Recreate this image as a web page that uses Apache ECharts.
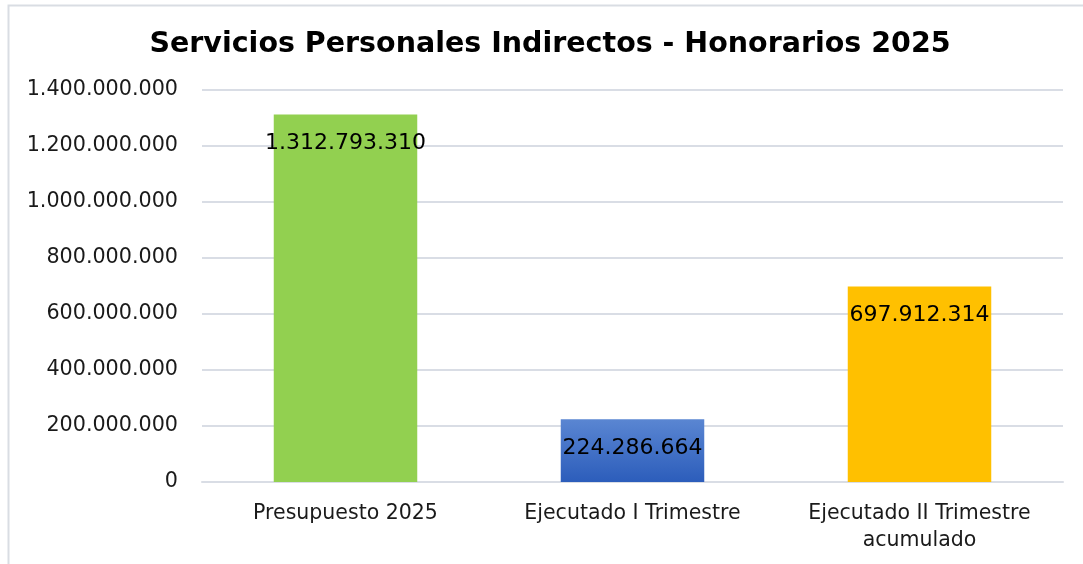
<!DOCTYPE html>
<html>
<head>
<meta charset="utf-8">
<script src="https://cdn.jsdelivr.net/npm/echarts@6/dist/echarts.min.js"></script>
<style>
html,body{margin:0;padding:0;background:#fff;}
#chart{width:1083px;height:564px;}
</style>
</head>
<body>
<div id="chart"></div>
<script>
const titleText = 'Servicios Personales Indirectos - Honorarios 2025';
const categories = ['Presupuesto 2025', 'Ejecutado I Trimestre', 'Ejecutado II Trimestre\nacumulado'];
const values = [1312793310, 224286664, 697912314];
const yMin = 0, yMax = 1400000000, yInterval = 200000000;

function fmt(v) {
  return String(Math.round(v)).replace(/\B(?=(\d{3})+(?!\d))/g, '.');
}

const barColors = [
  '#92D050',
  new echarts.graphic.LinearGradient(0, 0, 0, 1, [{offset: 0, color: '#5A86D2'}, {offset: 1, color: '#2C5DBB'}]),
  '#FFC000'
];

const chart = echarts.init(document.getElementById('chart'), null, {renderer: 'canvas'});
chart.setOption({
  animation: false,
  backgroundColor: '#ffffff',
  graphic: [{
    type: 'rect',
    shape: {x: 8.5, y: 5.5, width: 2000, height: 2000},
    style: {fill: 'none', stroke: '#D9DDE3', lineWidth: 2},
    silent: true, z: -1
  }, {
    type: 'text',
    x: 550, y: 45,
    style: {
      text: titleText,
      textAlign: 'center', textVerticalAlign: 'middle',
      font: 'bold 28.5px "DejaVu Sans"',
      fill: '#000'
    },
    silent: true
  }],
  grid: {left: 202, right: 20, top: 90, bottom: 82, containLabel: false},
  xAxis: {
    type: 'category',
    data: categories,
    axisLine: {show: true, lineStyle: {color: '#D9DDE5', width: 2}},
    axisTick: {show: false},
    axisLabel: {interval: 0, hideOverlap: false, fontFamily: 'DejaVu Sans', fontSize: 20.5, color: '#1a1a1a', margin: 18, lineHeight: 27}
  },
  yAxis: {
    type: 'value',
    min: yMin, max: yMax, interval: yInterval,
    axisLine: {show: false},
    axisTick: {show: false},
    splitLine: {lineStyle: {color: '#D9DDE5', width: 2}},
    axisLabel: {fontFamily: 'DejaVu Sans', fontSize: 20.7, color: '#1a1a1a', margin: 24, formatter: fmt}
  },
  series: [{
    type: 'bar',
    data: values.map((v, i) => ({value: v, itemStyle: {color: barColors[i]}})),
    barWidth: '50%',
    label: {
      show: true,
      position: 'insideTop',
      distance: 18,
      fontFamily: 'DejaVu Sans',
      fontSize: 22,
      color: '#000',
      formatter: p => fmt(p.value)
    }
  }]
});
</script>
</body>
</html>
